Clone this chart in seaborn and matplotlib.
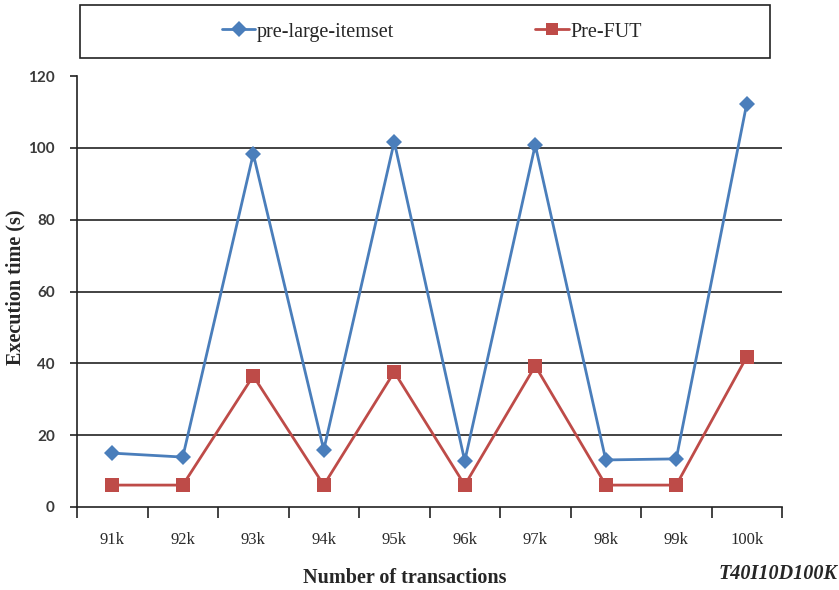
import matplotlib
matplotlib.use("Agg")
import matplotlib.pyplot as plt
import seaborn as sns
import pandas as pd
from matplotlib.patches import Rectangle
from matplotlib.ticker import FixedLocator

categories = ["91k", "92k", "93k", "94k", "95k", "96k", "97k", "98k", "99k", "100k"]
pre_large = [15.0, 13.9, 98.3, 15.9, 101.7, 12.8, 100.8, 13.1, 13.4, 112.3]
pre_fut = [6.1, 6.1, 36.5, 6.1, 37.6, 6.1, 39.3, 6.1, 6.1, 41.8]
series_names = ["pre-large-itemset", "Pre-FUT"]
y_ticks = [0, 20, 40, 60, 80, 100, 120]

sns.set_theme(style="white")
plt.rcParams["font.family"] = ["Liberation Serif", "DejaVu Serif"]

df = pd.DataFrame({
    "cat": categories * 2,
    "val": pre_large + pre_fut,
    "series": [series_names[0]] * len(categories) + [series_names[1]] * len(categories),
})

fig = plt.figure(figsize=(8.39, 5.9), dpi=100)
ax = fig.add_axes([77 / 839, 1 - 507 / 590, 705 / 839, 431 / 590])

palette = {series_names[0]: "#4A7EBB", series_names[1]: "#BE4B48"}
markers = {series_names[0]: "D", series_names[1]: "s"}
sns.lineplot(data=df, x="cat", y="val", hue="series", style="series",
             palette=palette, markers=markers, dashes=False, linewidth=2,
             markersize=8, markeredgewidth=0, ax=ax, legend=False, sort=False)
for line in ax.get_lines():
    if line.get_marker() == "s":
        line.set_markersize(9.5)

ax.set_xlim(-0.5, len(categories) - 0.5)
ax.set_ylim(0, 120)
ax.set_yticks(y_ticks)
ax.set_yticklabels([str(t) for t in y_ticks], fontsize=11, color="#3a3a3a",
                   family=["Lato", "DejaVu Sans"], fontweight="bold")
ax.xaxis.set_major_locator(FixedLocator([i - 0.5 for i in range(len(categories) + 1)]))
ax.xaxis.set_minor_locator(FixedLocator(list(range(len(categories)))))
ax.set_xticklabels([""] * (len(categories) + 1))
ax.set_xticklabels(categories, minor=True, fontsize=12, color="#2a2a2a")
ax.tick_params(axis="x", which="major", direction="out", length=8, width=1.2, color="#222222", bottom=True)
ax.tick_params(axis="x", which="minor", length=0, pad=18)
ax.tick_params(axis="y", direction="out", length=5, width=1.2, color="#222222", left=True, pad=11)

for y in y_ticks[1:-1]:
    ax.axhline(y, color="#222222", linewidth=1.2, zorder=0)

for s in ["top", "right"]:
    ax.spines[s].set_visible(False)
for s in ["left", "bottom"]:
    ax.spines[s].set_color("#222222")
    ax.spines[s].set_linewidth(1.2)

ax.set_xlabel("Number of transactions", fontsize=14.5, fontweight="bold")
ax.xaxis.set_label_coords((405 - 77) / 705, -(568 - 507) / 431)
ax.set_ylabel("Execution time (s)", fontsize=14.5, fontweight="bold")
ax.yaxis.set_label_coords((25 - 77) / 705, (507 - 287) / 431)

fig.text(837 / 839, 1 - 574 / 590, "T40I10D100K", fontsize=14.5, fontweight="bold",
         fontstyle="italic", ha="right", va="center")

rect = Rectangle((80 / 839, 1 - 58 / 590), 690 / 839, 53 / 590, transform=fig.transFigure,
                 facecolor="white", edgecolor="#222222", linewidth=1.2)
fig.patches.append(rect)
handles = [plt.Line2D([], [], color="#4A7EBB", marker="D", markersize=8, markeredgewidth=0, linewidth=2),
           plt.Line2D([], [], color="#BE4B48", marker="s", markersize=9, markeredgewidth=0, linewidth=2)]
fig.legend(handles, series_names, loc="center", bbox_to_anchor=(432 / 839, 1 - 32 / 590),
           ncol=2, frameon=False, fontsize=14.5, handlelength=1.65, handletextpad=0.1,
           columnspacing=7.0)

fig.savefig("out.png", dpi=100)
